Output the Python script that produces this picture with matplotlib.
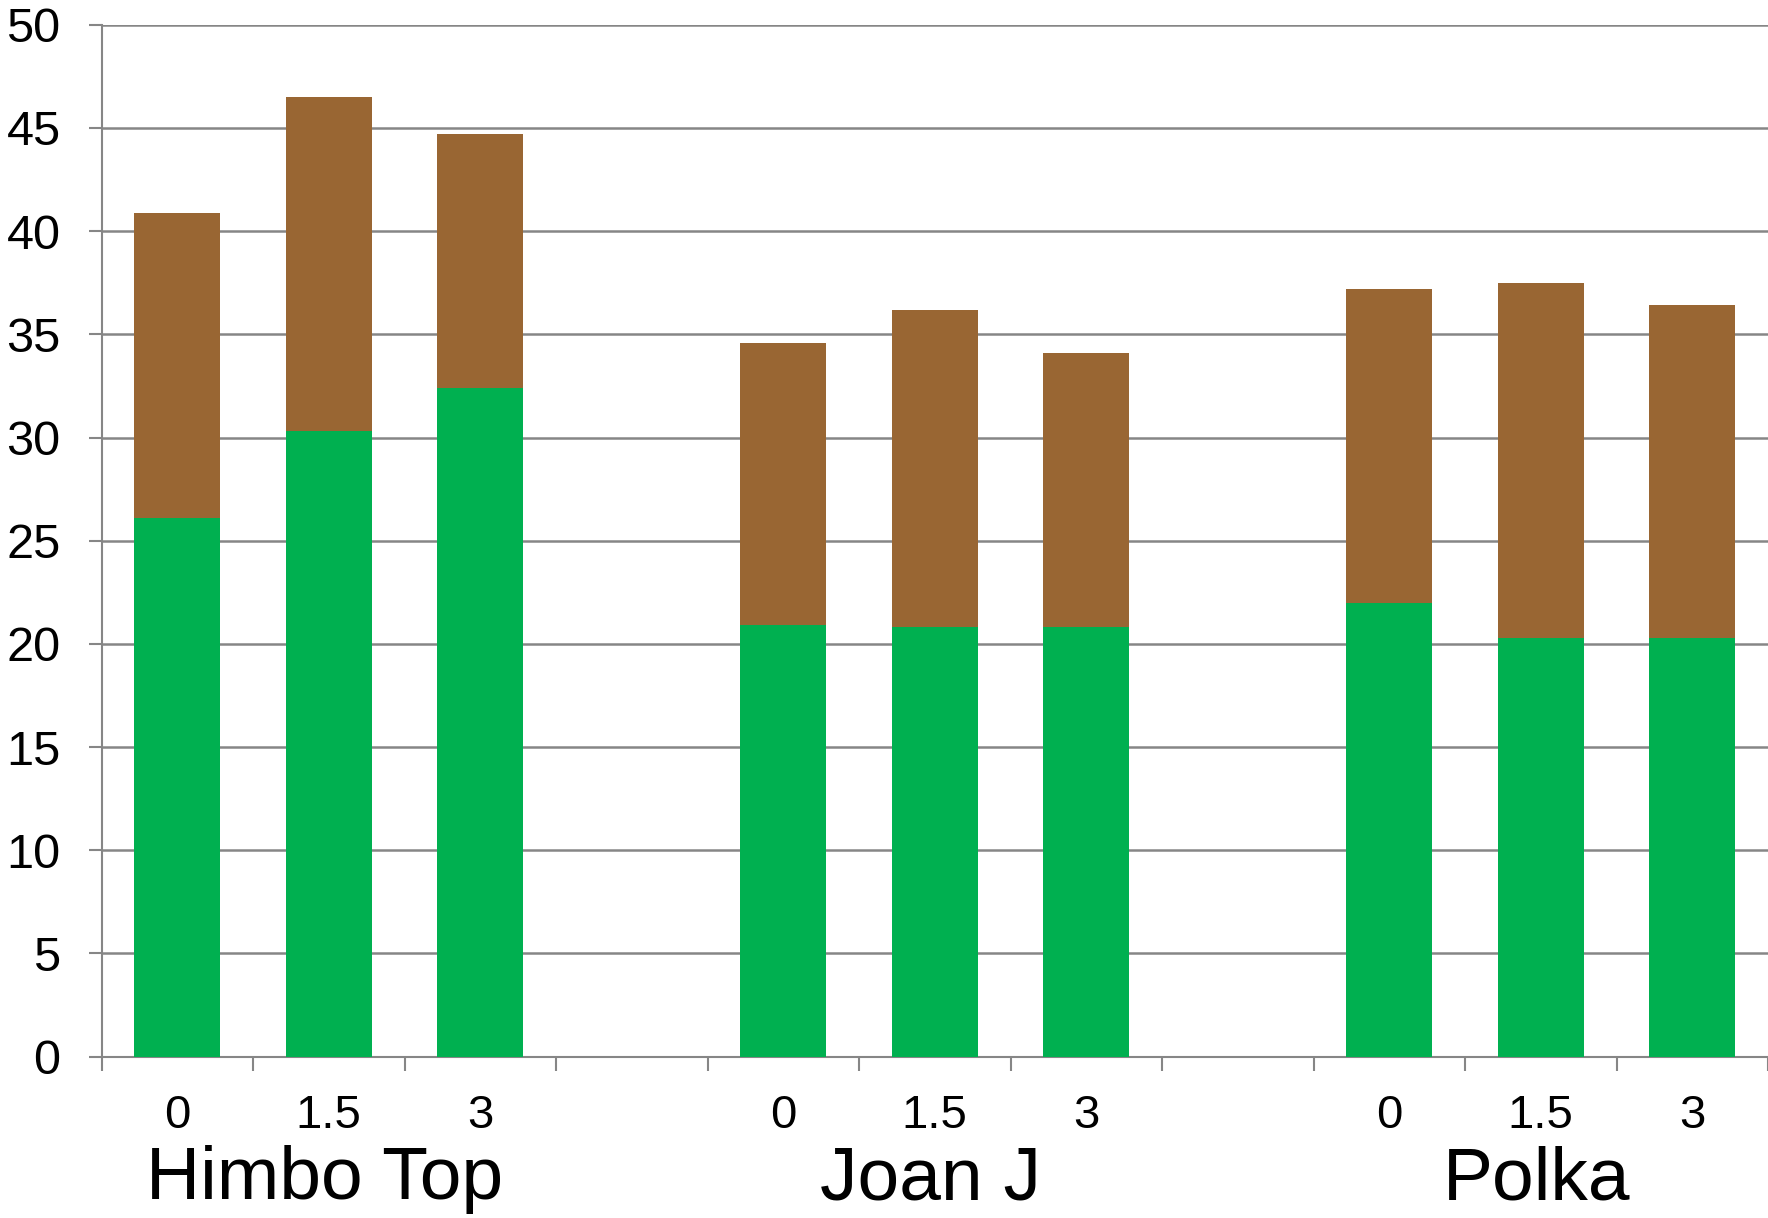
import matplotlib
matplotlib.use("Agg")
import matplotlib.pyplot as plt
import matplotlib.transforms as mtransforms

plt.rcParams['font.family'] = ['Liberation Sans', 'DejaVu Sans']

# data
groups = ["Himbo Top", "Joan J", "Polka"]
doses = ["0", "1.5", "3"]
green_vals = [26.1, 30.3, 32.4, 20.9, 20.8, 20.8, 22.0, 20.3, 20.3]
brown_vals = [14.8, 16.2, 12.3, 13.7, 15.4, 13.3, 15.2, 17.2, 16.1]

# 3 bars per group, one empty slot between groups
slots = []
for g in range(len(groups)):
    for d in range(len(doses)):
        slots.append(g * 4 + d)

W, H = 1768, 1218
fig = plt.figure(figsize=(W / 100, H / 100), dpi=100)
left, right, top, bottom = 101.5, 1768, 24.8, 1056.6
ax = fig.add_axes([left / W, (H - bottom) / H, (right - left) / W, (bottom - top) / H])

grid_col = "#868686"
ax.bar(slots, green_vals, width=0.57, color="#00B050", zorder=3)
ax.bar(slots, brown_vals, width=0.57, bottom=green_vals, color="#996633", zorder=3)

ax.set_xlim(-0.5, 10.5)
ax.set_ylim(0, 50)
ax.set_yticks(range(0, 51, 5))
ax.yaxis.grid(True, color=grid_col, linewidth=1.8, zorder=0)
ax.set_axisbelow(True)

# category boundaries as major ticks, dose labels as minor ticks
ax.set_xticks([i - 0.5 for i in range(12)])
ax.set_xticklabels([])
ax.set_xticks(slots, minor=True)
ax.set_xticklabels(doses * 3, minor=True)
ax.tick_params(axis='x', which='minor', length=0, labelsize=34, pad=27)
ax.tick_params(axis='x', which='major', length=10, width=1.5, color=grid_col)
ax.tick_params(axis='y', length=9.5, width=1.5, color=grid_col, labelsize=35, pad=20)

for s in ["top", "right"]:
    ax.spines[s].set_visible(False)
for s in ["left", "bottom"]:
    ax.spines[s].set_color(grid_col)
    ax.spines[s].set_linewidth(1.5)

# group names under the dose labels
trans = mtransforms.blended_transform_factory(ax.transData, fig.transFigure)
for g, name in enumerate(groups):
    ax.text(g * 4 + 0.97, 4 / H, name, transform=trans,
            ha="center", va="bottom", fontsize=54)

fig.savefig("out.png", dpi=100)
